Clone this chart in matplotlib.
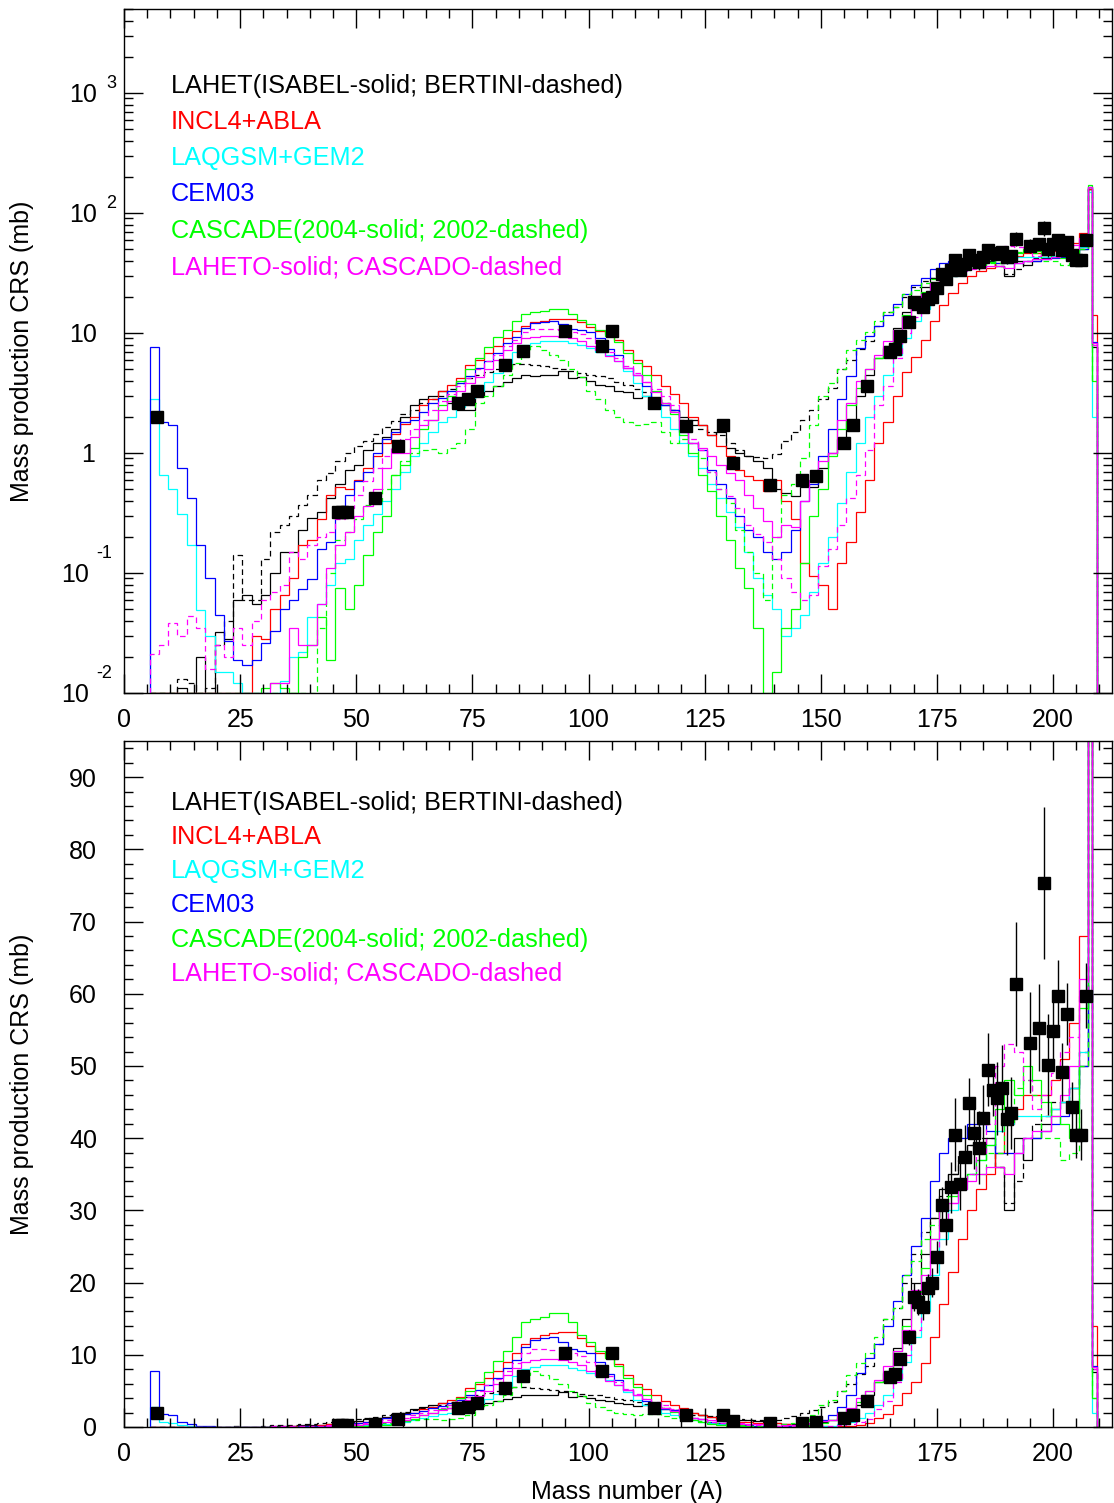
import numpy as np
import matplotlib.pyplot as plt
from matplotlib.ticker import MultipleLocator, LogLocator, NullFormatter

plt.rcParams['font.family'] = ['Liberation Sans', 'DejaVu Sans']

# bins: 2-unit wide from 5.5 to 207.5, then single bins at A=208 and A=209
edges = np.concatenate([np.arange(5.5, 207.6, 2.0), [208.5, 209.5]])

lahet_isabel = [
    0, 0, 0, 0.011, 0, 0.02, 0, 0.032, 0.028, 0.06,
    0.065, 0.055, 0.066, 0.1, 0.15, 0.15, 0.23, 0.29, 0.32, 0.42,
    0.55, 0.72, 0.8, 1.05, 1.2, 1.35, 1.6, 2.0, 2.5, 2.8,
    3.0, 3.3, 2.6, 2.3, 2.3, 3.0, 3.3, 3.6, 3.9, 4.2,
    4.5, 4.4, 4.5, 4.5, 4.8, 4.2, 4.3, 4.0, 3.7, 3.6,
    3.3, 3.2, 2.9, 3.0, 2.8, 2.5, 2.3, 2.0, 1.9, 1.7,
    1.4, 1.5, 1.1, 1.0, 0.95, 0.85, 0.75, 0.5, 0.46, 0.44,
    0.52, 0.52, 0.75, 1.0, 1.3, 1.9, 3.0, 4.5, 6.2, 7.5,
    11, 15, 20, 24, 29, 33, 35, 37, 39, 39,
    40, 36, 30, 40, 37, 40, 42, 44, 45, 47,
    50, 160, 7.6]
lahet_bertini = [
    0, 0, 0, 0.013, 0.012, 0, 0.011, 0.025, 0.04, 0.14,
    0.06, 0.06, 0.13, 0.22, 0.25, 0.3, 0.37, 0.45, 0.6, 0.68,
    0.85, 1.0, 1.15, 1.25, 1.45, 1.65, 1.85, 2.1, 2.3, 2.6,
    2.8, 3.0, 3.4, 3.8, 4.2, 4.5, 4.7, 5.0, 5.3, 5.5,
    5.5, 5.4, 5.3, 5.1, 5.0, 4.8, 4.6, 4.5, 4.4, 4.2,
    3.9, 3.7, 3.4, 3.2, 2.8, 2.6, 2.3, 1.9, 1.7, 1.6,
    1.5, 1.4, 1.2, 1.05, 0.95, 0.92, 0.9, 0.98, 1.25, 1.5,
    1.9, 2.3, 2.8, 3.5, 5.0, 6.0, 7.4, 8.5, 11.5, 15,
    16.5, 20, 24, 27, 29, 32, 35, 38, 39, 40,
    40, 36, 31, 34, 40, 42, 43, 45, 45, 47,
    52, 160, 8.0]
incl4 = [
    0, 0, 0, 0, 0, 0, 0, 0, 0, 0,
    0, 0.03, 0.028, 0.05, 0.065, 0.09, 0.17, 0.19, 0.28, 0.45,
    0.52, 0.5, 0.6, 0.75, 0.95, 1.2, 1.45, 1.75, 2.0, 2.5,
    2.8, 3.3, 3.7, 4.2, 5.4, 6.0, 6.8, 7.8, 9.0, 10.3,
    11.5, 12.3, 12.7, 13.0, 13.1, 13.1, 12.3, 11.2, 10.3, 9.8,
    8.7, 7.2, 6.0, 5.3, 4.5, 3.6, 3.1, 2.6, 2.0, 1.7,
    1.4, 1.15, 0.95, 0.72, 0.64, 0.6, 0.48, 0.6, 0.4, 0.28,
    0.12, 0.095, 0.08, 0.05, 0.12, 0.18, 0.32, 0.6, 1.2, 1.8,
    3.0, 4.7, 6.3, 8.8, 12.5, 17, 21.5, 26, 30, 33,
    35, 38, 42, 44, 46, 46, 46, 48, 51, 56,
    68, 160, 14]
laqgsm = [
    2.8, 0.66, 0.5, 0.31, 0.17, 0.049, 0.03, 0.015, 0.015, 0.012,
    0, 0, 0, 0, 0.0125, 0.02, 0.022, 0.043, 0.055, 0.08,
    0.12, 0.13, 0.19, 0.25, 0.31, 0.4, 0.5, 0.7, 0.95, 1.2,
    1.5, 1.8, 2.0, 2.4, 2.9, 3.3, 3.9, 4.6, 5.6, 7.0,
    8.0, 8.3, 8.6, 8.6, 8.6, 8.2, 7.9, 7.5, 7.0, 6.5,
    5.8, 4.8, 3.8, 3.0, 2.5, 2.0, 1.6, 1.2, 0.95, 0.75,
    0.55, 0.42, 0.32, 0.24, 0.15, 0.09, 0.065, 0.05, 0.03, 0.035,
    0.045, 0.07, 0.12, 0.2, 0.38, 0.7, 1.2, 2.0, 3.0, 4.5,
    6.5, 9.0, 12.5, 16, 21, 26, 30, 33, 35, 37,
    39, 41, 42, 43, 43, 43, 43, 44, 45, 47,
    52, 150, 2.0]
cem03 = [
    7.7, 1.8, 1.7, 0.75, 0.42, 0.17, 0.09, 0.045, 0.027, 0.019,
    0.017, 0.019, 0.026, 0.033, 0.05, 0.06, 0.074, 0.089, 0.16, 0.18,
    0.33, 0.45, 0.58, 0.7, 1.0, 1.3, 1.5, 1.8, 1.9, 2.2,
    2.6, 2.9, 3.3, 3.8, 4.4, 5.1, 5.8, 6.8, 8.2, 9.3,
    11.1, 12.0, 12.3, 12.5, 11.8, 10.8, 10.5, 10.2, 9.0, 7.4,
    6.5, 5.1, 4.5, 3.6, 2.8, 2.5, 2.3, 1.5, 1.2, 1.05,
    0.72, 0.55, 0.42, 0.30, 0.23, 0.2, 0.15, 0.13, 0.15, 0.23,
    0.40, 0.55, 0.95, 1.6, 2.8, 4.4, 7.5, 9.5, 11.5, 14,
    17.5, 21, 25, 29, 34, 38, 40, 40, 42, 42,
    41, 38, 38, 38, 40, 40, 41, 42, 43, 44,
    50, 165, 8.4]
cascade_2004 = [
    0, 0, 0, 0, 0, 0, 0, 0, 0, 0,
    0, 0, 0.011, 0.012, 0.011, 0, 0.02, 0.025, 0.043, 0.019,
    0.075, 0.05, 0.08, 0.14, 0.22, 0.3, 0.65, 0.8, 1.1, 1.6,
    1.9, 2.5, 3.0, 4.0, 5.0, 6.2, 7.6, 9.2, 10.5, 12.5,
    14.5, 15.0, 15.2, 15.8, 15.8, 14.5, 12.8, 11.8, 10.5, 9.5,
    8.4, 6.8, 5.6, 4.5, 3.3, 2.6, 2.1, 1.4, 1.0, 0.65,
    0.48, 0.3, 0.19, 0.11, 0.075, 0.035, 0, 0.015, 0.035, 0.05,
    0.12, 0.3, 0.5, 0.95, 1.6, 2.5, 3.5, 5.0, 6.2, 7.8,
    10.5, 14, 18, 22, 26, 30, 32, 34, 35, 37,
    39, 44, 48, 46, 50, 48, 45, 43, 42, 40,
    58, 170, 4.0]
cascade_2002 = [
    0, 0, 0, 0, 0, 0, 0, 0, 0, 0,
    0, 0, 0, 0, 0, 0, 0, 0, 0.035, 0.1,
    0.19, 0.22, 0.28, 0.37, 0.4, 0.5, 0.65, 0.85, 1.0, 1.05,
    1.08, 1.0, 1.1, 1.2, 1.6, 2.6, 3.0, 3.6, 4.5, 5.6,
    7.2, 7.8, 7.2, 6.6, 6.0, 5.0, 4.3, 3.3, 2.8, 2.3,
    2.0, 1.8, 1.7, 1.75, 1.8, 1.5, 1.2, 1.3, 1.2, 0.9,
    0.7, 0.5, 0.38, 0.23, 0.15, 0.1, 0.06, 0.2, 0.45, 0.55,
    0.9, 1.7, 3.0, 3.8, 5.0, 7.2, 8.8, 10.2, 12.5, 15,
    16.5, 21, 23, 26, 28, 31, 32, 34, 35, 35,
    38, 38, 42, 47, 48, 46, 40, 40, 37, 38,
    50, 165, 4.0]
laheto = [
    0, 0, 0, 0, 0, 0, 0, 0, 0, 0,
    0, 0, 0, 0.012, 0.012, 0.035, 0.025, 0.025, 0.055, 0.11,
    0.17, 0.22, 0.3, 0.36, 0.5, 0.75, 1.0, 1.0, 1.35, 1.7,
    1.9, 2.3, 2.7, 3.3, 3.8, 4.3, 5.0, 6.0, 7.2, 8.2,
    9.0, 9.3, 9.4, 9.4, 9.3, 9.0, 8.6, 7.8, 7.2, 6.4,
    5.8, 5.1, 4.5, 3.9, 3.2, 2.6, 2.2, 1.6, 1.2, 1.1,
    0.95, 0.8, 0.68, 0.6, 0.45, 0.35, 0.27, 0.2, 0.25, 0.24,
    0.4, 0.6, 0.85, 1.0, 1.9, 2.6, 4.0, 5.0, 6.5, 8.5,
    10.5, 13.5, 19, 21, 26, 30, 31, 33, 34, 35,
    36, 36, 35, 38, 40, 41, 41, 43, 46, 50,
    62, 165, 8.3]
cascado = [
    0.021, 0.025, 0.038, 0.03, 0.044, 0.035, 0.016, 0.025, 0.02, 0.035,
    0.025, 0.04, 0.06, 0.07, 0.08, 0.15, 0.13, 0.17, 0.2, 0.22,
    0.28, 0.35, 0.45, 0.58, 0.75, 0.95, 1.1, 1.3, 1.6, 1.9,
    2.3, 2.7, 3.1, 3.6, 4.2, 5.0, 5.8, 6.6, 7.8, 8.8,
    10.2, 10.8, 10.8, 10.7, 10.6, 10.2, 9.8, 9.0, 7.8, 7.0,
    6.2, 5.3, 4.6, 3.9, 3.4, 3.0, 2.5, 1.8, 1.3, 1.05,
    0.7, 0.5, 0.44, 0.35, 0.25, 0.21, 0.18, 0.13, 0.09, 0.07,
    0.06, 0.065, 0.115, 0.16, 0.25, 0.42, 0.65, 1.05, 2.5, 3.6,
    6.2, 10, 13.5, 18.5, 24, 28, 31, 34, 35, 38,
    42, 50, 53, 52, 48, 44, 46, 49, 52, 54,
    60, 165, 8.0]

# measured cross sections
data_a = [7, 46, 47, 48, 54, 59, 72, 74, 76, 82,
          86, 95, 103, 105, 114, 121, 129, 131, 139, 146,
          149, 155, 157, 160, 165, 166, 167, 169, 170, 171,
          172, 173, 174, 175, 176, 177, 178, 179, 180, 181,
          182, 183, 184, 185, 186, 187, 188, 189, 190, 191,
          192, 195, 197, 198, 199, 200, 201, 202, 203, 204,
          205, 206, 207]
data_v = [2.0, 0.32, 0.32, 0.32, 0.42, 1.15, 2.6, 2.8, 3.3, 5.4,
          7.1, 10.3, 7.8, 10.3, 2.6, 1.68, 1.71, 0.83, 0.54, 0.60,
          0.64, 1.21, 1.71, 3.6, 6.9, 7.4, 9.4, 12.4, 18.0, 17.3,
          16.6, 19.2, 20.0, 23.5, 30.8, 28.0, 33.2, 40.5, 33.6, 37.4,
          44.9, 40.7, 38.7, 42.8, 49.5, 46.6, 45.5, 46.9, 42.6, 43.5,
          61.3, 53.2, 55.3, 75.3, 50.2, 54.8, 59.7, 49.2, 57.2, 44.3,
          40.4, 40.5, 59.7]
data_err = [0.15, 0.03, 0.03, 0.03, 0.04, 0.1, 0.2, 0.2, 0.25, 0.4,
            0.5, 0.8, 0.6, 0.8, 0.2, 0.13, 0.13, 0.07, 0.05, 0.05,
            0.06, 0.1, 0.14, 0.3, 0.6, 0.6, 0.8, 1.0, 2.0, 1.8,
            1.8, 2.0, 2.0, 2.2, 2.5, 2.8, 3.5, 5.0, 3.5, 4.4,
            3.5, 5.0, 5.0, 4.5, 5.0, 3.5, 5.0, 6.0, 5.0, 5.0,
            8.6, 7.0, 6.0, 10.5, 7.0, 4.0, 5.0, 4.0, 4.3, 3.5,
            3.2, 3.5, 4.5]

legend_texts = ['LAHET(ISABEL-solid; BERTINI-dashed)', 'INCL4+ABLA', 'LAQGSM+GEM2',
                'CEM03', 'CASCADE(2004-solid; 2002-dashed)', 'LAHETO-solid; CASCADO-dashed']
legend_colors = ['black', 'red', 'cyan', 'blue', '#00ff00', 'magenta']

dash = (0, (4.5, 3))
models = [
    (lahet_isabel, 'black', '-'),
    (lahet_bertini, 'black', dash),
    (incl4, 'red', '-'),
    (laqgsm, 'cyan', '-'),
    (cem03, 'blue', '-'),
    (cascade_2004, '#00ff00', '-'),
    (cascade_2002, '#00ff00', dash),
    (laheto, 'magenta', '-'),
    (cascado, 'magenta', dash),
]

W, H = 1114, 1503
fig = plt.figure(figsize=(W / 100, H / 100), dpi=100)
ax1 = fig.add_axes([124 / W, 1 - 693 / H, 988 / W, 684 / H])
ax2 = fig.add_axes([124 / W, 1 - 1427 / H, 988 / W, 686 / H])


def draw_panel(ax, floor):
    for vals, color, ls in models:
        v = np.maximum(np.array(vals, dtype=float), floor)
        ax.stairs(v, edges, baseline=floor, color=color, lw=0.9, linestyle=ls)
    ax.errorbar(data_a, data_v, yerr=data_err, fmt='s', color='black', ms=9,
                elinewidth=1.0, capsize=0, zorder=5)
    ax.set_xlim(0, 212.7)
    ax.xaxis.set_major_locator(MultipleLocator(25))
    ax.xaxis.set_minor_locator(MultipleLocator(5))
    ax.tick_params(which='both', direction='in', top=True, right=True, width=1.0)
    ax.tick_params(which='major', length=14)
    ax.tick_params(which='minor', length=6.5)
    ax.tick_params(axis='x', labelsize=18, pad=10.5)
    for s in ax.spines.values():
        s.set_linewidth(1.0)


# top panel, log scale
draw_panel(ax1, 1e-2)
ax1.set_yscale('log')
ax1.set_ylim(1e-2, 10 ** 3.7)
ax1.yaxis.set_major_locator(LogLocator(base=10, numticks=10))
ax1.yaxis.set_minor_locator(LogLocator(base=10, subs=np.arange(2, 10), numticks=10))
ax1.yaxis.set_major_formatter(NullFormatter())
ax1.yaxis.set_minor_formatter(NullFormatter())

ytick_vals = [1e-2, 1e-1, 1, 10, 1e2, 1e3]
ytick_main = ['10', '10', '1', '10', '10', '10']
ytick_sup = ['-2', '-1', '', '', '2', '3']
tr = ax1.get_yaxis_transform()
for val, main, sup in zip(ytick_vals, ytick_main, ytick_sup):
    if sup.startswith('-'):
        mx, sx, sy = -35, -28, 19
    elif sup:
        mx, sx, sy = -27, -18, 9
    else:
        mx, sx, sy = (-27 if main == '10' else -29), 0, 0
    ax1.annotate(main, xy=(0, val), xycoords=tr, xytext=(mx, -2),
                 textcoords='offset pixels', ha='right', va='center', fontsize=18)
    if sup:
        ax1.annotate(sup, xy=(0, val), xycoords=tr, xytext=(sx, sy),
                     textcoords='offset pixels', ha='left', va='center', fontsize=13)

# bottom panel, linear
draw_panel(ax2, 0.0)
ax2.set_ylim(0, 95)
ax2.yaxis.set_major_locator(MultipleLocator(10))
ax2.yaxis.set_minor_locator(MultipleLocator(2))
ax2.tick_params(axis='y', labelsize=18, pad=19.4)

# legends as coloured text lines
for ys in ([84, 120, 156, 192, 229, 265], [801, 835, 869, 903, 938, 972]):
    for y, txt, c in zip(ys, legend_texts, legend_colors):
        fig.text(171 / W, 1 - (y + 2) / H, txt, color=c, fontsize=18.2,
                 ha='left', va='center')

fig.text(22 / W, 1 - 351 / H, 'Mass production CRS (mb)', rotation=90,
         ha='center', va='center', fontsize=18)
fig.text(22 / W, 1 - 1084 / H, 'Mass production CRS (mb)', rotation=90,
         ha='center', va='center', fontsize=18)
fig.text(627 / W, 1 - 1492 / H, 'Mass number (A)', ha='center', va='center', fontsize=18)

fig.savefig('out.png', dpi=100)
